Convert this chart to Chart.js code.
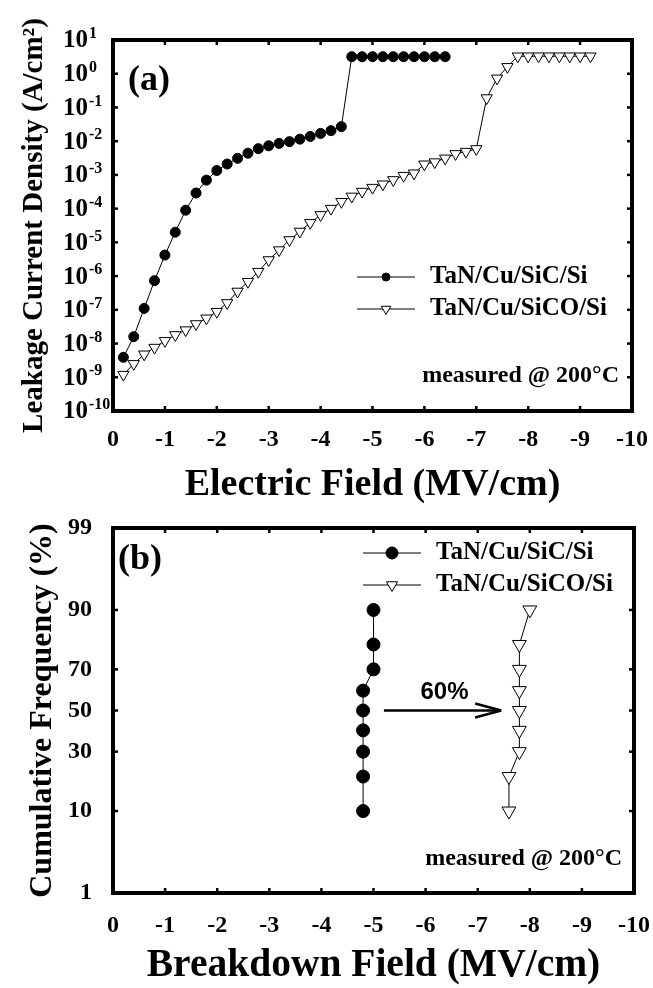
<!DOCTYPE html>
<html>
<head>
<meta charset="utf-8">
<title>Leakage current and breakdown field</title>
<script src="https://cdn.jsdelivr.net/npm/chart.js"></script>
<style>
  html, body { margin: 0; padding: 0; background: #fff; }
  #wrap { position: relative; width: 653px; height: 988px; overflow: hidden; background: #fff; }
  canvas { position: absolute; left: 0; }
  #leak { top: 0; }
  #bd { top: 500px; }
</style>
</head>
<body>
<div id="wrap">
  <canvas id="leak" width="653" height="520"></canvas>
  <canvas id="bd" width="653" height="488"></canvas>
</div>
<script>
// (a) leakage current density vs electric field
const sicField = [-0.2, -0.4, -0.6, -0.8, -1.0, -1.2, -1.4, -1.6, -1.8, -2.0, -2.2,
                  -2.4, -2.6, -2.8, -3.0, -3.2, -3.4, -3.6, -3.8, -4.0, -4.2, -4.4,
                  -4.6, -4.8, -5.0, -5.2, -5.4, -5.6, -5.8, -6.0, -6.2, -6.4];
const sicCurrent = [3.9e-9, 1.6e-8, 1.1e-7, 7.3e-7, 4.2e-6, 2.0e-5, 9.0e-5, 2.9e-4, 7.0e-4, 1.35e-3, 2.1e-3,
                    3.1e-3, 4.4e-3, 6.0e-3, 7.3e-3, 8.6e-3, 9.7e-3, 1.15e-2, 1.38e-2, 1.7e-2, 2.05e-2, 2.7e-2,
                    3.2, 3.2, 3.2, 3.2, 3.2, 3.2, 3.2, 3.2, 3.2, 3.2];
const sicoField = [-0.2, -0.4, -0.6, -0.8, -1.0, -1.2, -1.4, -1.6, -1.8, -2.0, -2.2, -2.4,
                   -2.6, -2.8, -3.0, -3.2, -3.4, -3.6, -3.8, -4.0, -4.2, -4.4, -4.6, -4.8,
                   -5.0, -5.2, -5.4, -5.6, -5.8, -6.0, -6.2, -6.4, -6.6, -6.8, -7.0, -7.2,
                   -7.4, -7.6, -7.8, -8.0, -8.2, -8.4, -8.6, -8.8, -9.0, -9.2];
const sicoCurrent = [1.2e-9, 2.5e-9, 4.8e-9, 7.6e-9, 1.2e-8, 1.8e-8, 2.5e-8, 3.8e-8, 5.6e-8, 8.8e-8, 1.6e-7, 3.5e-7,
                     6.8e-7, 1.35e-6, 3.0e-6, 5.9e-6, 1.18e-5, 2.1e-5, 3.8e-5, 6.5e-5, 1.0e-4, 1.6e-4, 2.3e-4, 3.2e-4,
                     4.2e-4, 5.3e-4, 7.1e-4, 9.5e-4, 1.12e-3, 2.07e-3, 2.4e-3, 3.1e-3, 4.2e-3, 4.9e-3, 5.9e-3, 0.19,
                     0.73, 1.6, 3.3, 3.3, 3.3, 3.3, 3.3, 3.3, 3.3, 3.3];
const currentExps = [1, 0, -1, -2, -3, -4, -5, -6, -7, -8, -9, -10];

// (b) cumulative breakdown distribution
const breakdownPct = [10, 20, 30, 40, 50, 60, 70, 80, 90];
const sicBreakdown = [-4.8, -4.8, -4.8, -4.8, -4.8, -4.8, -5.0, -5.0, -5.0];
const sicoBreakdown = [-7.6, -7.6, -7.8, -7.8, -7.8, -7.8, -7.8, -7.8, -8.0];
const pctTicks = [1, 10, 30, 50, 70, 90, 99];
const shiftArrow = { from: -5.2, to: -7.45, pct: 50, label: '60%' };

const serif = "'Liberation Serif', 'Times New Roman', serif";
Chart.defaults.font.family = serif;
Chart.defaults.color = '#000';

// inverse normal cdf (Acklam) for the probability axis
function probit(p) {
    const a = [-3.969683028665376e+01, 2.209460984245205e+02, -2.759285104469687e+02, 1.383577518672690e+02, -3.066479806614716e+01, 2.506628277459239e+00];
    const b = [-5.447609879822406e+01, 1.615858368580409e+02, -1.556989798598866e+02, 6.680131188771972e+01, -1.328068155288572e+01];
    const c = [-7.784894002430293e-03, -3.223964580411365e-01, -2.400758277161838e+00, -2.549671010243277e+00, 4.374664141464968e+00, 2.938163982698783e+00];
    const d = [7.784695709041462e-03, 3.224671290700398e-01, 2.445134137142996e+00, 3.754408661907416e+00];
    const plow = 0.02425;
    if (p < plow) {
        const q = Math.sqrt(-2 * Math.log(p));
        return (((((c[0]*q+c[1])*q+c[2])*q+c[3])*q+c[4])*q+c[5]) / ((((d[0]*q+d[1])*q+d[2])*q+d[3])*q+1);
    }
    if (p > 1 - plow) {
        const q = Math.sqrt(-2 * Math.log(1 - p));
        return -(((((c[0]*q+c[1])*q+c[2])*q+c[3])*q+c[4])*q+c[5]) / ((((d[0]*q+d[1])*q+d[2])*q+d[3])*q+1);
    }
    const q = p - 0.5, r = q * q;
    return (((((a[0]*r+a[1])*r+a[2])*r+a[3])*r+a[4])*r+a[5])*q / (((((b[0]*r+b[1])*r+b[2])*r+b[3])*r+b[4])*r+1);
}

function marker(ctx, style, x, y, r) {
    ctx.beginPath();
    if (style === 'circle') {
        ctx.arc(x, y, r, 0, Math.PI * 2);
        ctx.fillStyle = '#000';
    } else {
        const h = r * Math.sin(Math.PI / 3);
        ctx.moveTo(x, y + r);
        ctx.lineTo(x - h, y - r / 2);
        ctx.lineTo(x + h, y - r / 2);
        ctx.closePath();
        ctx.fillStyle = '#fff';
    }
    ctx.fill();
    ctx.lineWidth = 1;
    ctx.strokeStyle = '#000';
    ctx.stroke();
}

// frame, inward ticks, power-of-ten labels, legend and notes
const frame = {
    id: 'frame',
    afterDatasetsDraw(chart, args, opts) {
        const { ctx, chartArea: a, scales } = chart;
        ctx.save();
        ctx.strokeStyle = '#000';
        ctx.lineWidth = 2.5;
        const seg = (x0, y0, x1, y1) => { ctx.beginPath(); ctx.moveTo(x0, y0); ctx.lineTo(x1, y1); ctx.stroke(); };
        scales.x.ticks.forEach(t => {
            const px = scales.x.getPixelForValue(t.value);
            if (px < a.left + 3 || px > a.right - 3) return;
            seg(px, a.bottom, px, a.bottom - 5);
            seg(px, a.top, px, a.top + 5);
        });
        scales.y.ticks.forEach(t => {
            const py = scales.y.getPixelForValue(t.value);
            if (py < a.top + 3 || py > a.bottom - 3) return;
            seg(a.left, py, a.left + 5, py);
            seg(a.right, py, a.right - 5, py);
        });
        ctx.lineWidth = 4;
        ctx.strokeRect(a.left, a.top, a.right - a.left, a.bottom - a.top);

        ctx.fillStyle = '#000';
        ctx.textBaseline = 'middle';
        if (opts.powerLabels) {
            scales.y.ticks.forEach(t => {
                const py = scales.y.getPixelForValue(t.value);
                const e = Math.round(Math.log10(t.value));
                ctx.font = 'bold 25px ' + serif;
                ctx.textAlign = 'right';
                ctx.fillText('10', 88, py + 1);
                ctx.font = 'bold 16px ' + serif;
                ctx.textAlign = 'left';
                ctx.fillText(String(e), 89, py - 6);
            });
        }

        ctx.font = 'bold 36px ' + serif;
        ctx.textAlign = 'left';
        ctx.fillText(opts.panel, opts.panelX, opts.panelY);

        ctx.font = 'bold 24px ' + serif;
        ctx.textAlign = 'right';
        ctx.fillText('measured @ 200\u00B0C', opts.noteX, opts.noteY);

        const lg = opts.legend;
        chart.data.datasets.forEach((ds, i) => {
            const y = lg.rows[i];
            ctx.lineWidth = 1;
            ctx.strokeStyle = '#000';
            seg(lg.x0, y, lg.x1, y);
            marker(ctx, ds.pointStyle, (lg.x0 + lg.x1) / 2, y, lg.r[i]);
            ctx.fillStyle = '#000';
            ctx.font = 'bold 25px ' + serif;
            ctx.textAlign = 'left';
            ctx.fillText(ds.label, lg.textX, y);
        });

        if (opts.arrow) {
            const ar = opts.arrow;
            const y = scales.y.getPixelForValue(probit(ar.pct / 100));
            const x0 = scales.x.getPixelForValue(ar.from);
            const x1 = scales.x.getPixelForValue(ar.to);
            ctx.strokeStyle = '#000';
            ctx.lineWidth = 2.5;
            seg(x0, y, x1, y);
            seg(x1, y, x1 - 26, y - 7);
            seg(x1, y, x1 - 26, y + 7);
            ctx.font = "bold 24px 'Liberation Sans', Arial, sans-serif";
            ctx.textAlign = 'center';
            ctx.fillText(ar.label, (x0 + x1) / 2 + 2, y - 18);
        }
        ctx.restore();
    }
};

const tickFont = { size: 24, weight: 'bold' };
const xField = (title, titleSize, tickPad, height) => ({
    type: 'linear', min: -10, max: 0, reverse: true,
    grid: { display: false }, border: { display: false },
    ticks: { stepSize: 1, autoSkip: false, maxRotation: 0, padding: tickPad, font: tickFont, color: '#000',
             callback: v => String(v) },
    title: { display: true, text: title, color: '#000', padding: 0,
             font: { size: titleSize, weight: 'bold', lineHeight: 1 } },
    afterFit: s => { s.height = height; s.paddingLeft = 0; s.paddingRight = 0; }
});
const fixWidth = s => { s.width = 113; s.paddingTop = 0; s.paddingBottom = 0; };

new Chart(document.getElementById('leak'), {
    type: 'scatter',
    data: {
        datasets: [{
            label: 'TaN/Cu/SiC/Si',
            data: sicField.map((x, i) => ({ x: x, y: sicCurrent[i] })),
            showLine: true, borderColor: '#000', borderWidth: 1, tension: 0,
            pointStyle: 'circle', pointRadius: 5, pointBackgroundColor: '#000',
            pointBorderColor: '#000', pointBorderWidth: 1
        }, {
            label: 'TaN/Cu/SiCO/Si',
            data: sicoField.map((x, i) => ({ x: x, y: sicoCurrent[i] })),
            showLine: true, borderColor: '#000', borderWidth: 1, tension: 0,
            pointStyle: 'triangle', pointRotation: 180, pointRadius: 6.5, pointBackgroundColor: '#fff',
            pointBorderColor: '#000', pointBorderWidth: 1
        }]
    },
    options: {
        responsive: false, animation: false, devicePixelRatio: 1,
        layout: { padding: { top: 40, right: 21, bottom: 16, left: 0 } },
        plugins: {
            legend: { display: false }, tooltip: { enabled: false },
            frame: { panel: '(a)', panelX: 128, panelY: 81, noteX: 619, noteY: 376, powerLabels: true,
                     legend: { x0: 357, x1: 415, textX: 430, rows: [277, 309], r: [4, 5.5] } }
        },
        scales: {
            x: xField('Electric Field (MV/cm)', 38, 6, 93),
            y: {
                type: 'logarithmic', min: 1e-10, max: 10,
                grid: { display: false }, border: { display: false },
                afterBuildTicks: s => { s.ticks = currentExps.map(e => ({ value: Math.pow(10, e) })); },
                ticks: { display: false },
                title: { display: true, text: 'Leakage Current Density (A/cm\u00B2)', color: '#000',
                         padding: { top: 20, bottom: 0 }, font: { size: 29, weight: 'bold', lineHeight: 1 } },
                afterFit: fixWidth
            }
        }
    },
    plugins: [frame]
});

new Chart(document.getElementById('bd'), {
    type: 'scatter',
    data: {
        datasets: [{
            label: 'TaN/Cu/SiC/Si',
            data: sicBreakdown.map((x, i) => ({ x: x, y: probit(breakdownPct[i] / 100) })),
            showLine: true, borderColor: '#000', borderWidth: 1, tension: 0,
            pointStyle: 'circle', pointRadius: 6.5, pointBackgroundColor: '#000',
            pointBorderColor: '#000', pointBorderWidth: 1
        }, {
            label: 'TaN/Cu/SiCO/Si',
            data: sicoBreakdown.map((x, i) => ({ x: x, y: probit(breakdownPct[i] / 100) })),
            showLine: true, borderColor: '#000', borderWidth: 1, tension: 0,
            pointStyle: 'triangle', pointRotation: 180, pointRadius: 8, pointBackgroundColor: '#fff',
            pointBorderColor: '#000', pointBorderWidth: 1
        }]
    },
    options: {
        responsive: false, animation: false, devicePixelRatio: 1,
        layout: { padding: { top: 28, right: 19, bottom: 2, left: 0 } },
        plugins: {
            legend: { display: false }, tooltip: { enabled: false },
            frame: { panel: '(b)', panelX: 118, panelY: 60, noteX: 622, noteY: 359,
                     legend: { x0: 363, x1: 421, textX: 436, rows: [53, 85], r: [6, 6.5] },
                     arrow: shiftArrow }
        },
        scales: {
            x: xField('Breakdown Field (MV/cm)', 39.5, 10, 93),
            y: {
                type: 'linear', min: probit(0.01), max: probit(0.99),
                grid: { display: false }, border: { display: false },
                afterBuildTicks: s => { s.ticks = pctTicks.map(p => ({ value: probit(p / 100) })); },
                ticks: { padding: 13, font: tickFont, color: '#000',
                         callback: (v, i) => String(pctTicks[i]) },
                title: { display: true, text: 'Cumulative Frequency (%)', color: '#000',
                         padding: { top: 27, bottom: 0 }, font: { size: 32, weight: 'bold', lineHeight: 1 } },
                afterFit: fixWidth
            }
        }
    },
    plugins: [frame]
});
</script>
</body>
</html>
